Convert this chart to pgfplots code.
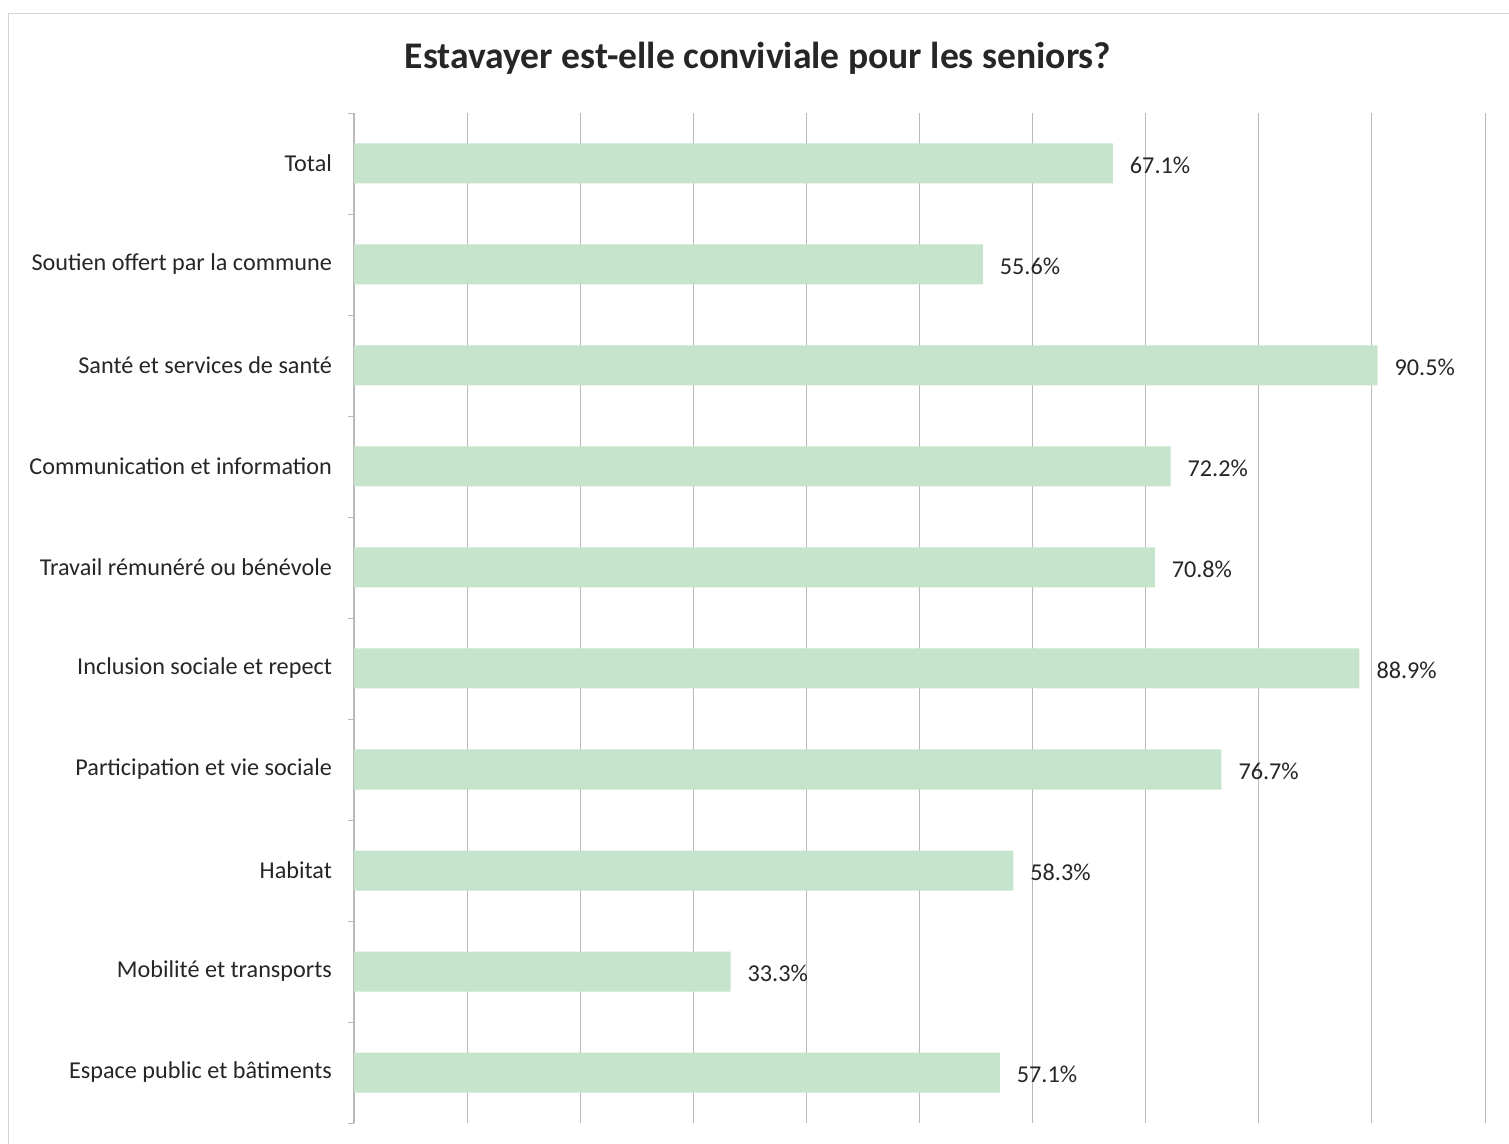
\documentclass[border=0pt]{standalone}
\usepackage{fontspec}
\setmainfont{Carlito}
\usepackage{pgfplots}
\pgfplotsset{compat=1.18}
\definecolor{barg}{RGB}{197,228,203}
\definecolor{gridg}{RGB}{185,185,185}
\begin{document}
\begin{tikzpicture}
\path[use as bounding box] (0pt,0pt) rectangle (754.5pt,572pt);
\draw[gridg!60,line width=0.4pt] (4pt,0pt) -- (4pt,565.5pt) -- (754.5pt,565.5pt);
\node[font=\fontsize{18.8}{20}\selectfont\bfseries, text=black!85] at (379pt,543pt) {Estavayer est-elle conviviale pour les seniors?};
\begin{axis}[
  at={(177pt,10.5pt)}, anchor=south west,
  scale only axis, width=565.5pt, height=505pt,
  xmin=0, xmax=100, ymin=-0.5, ymax=9.5, y dir=reverse,
  xtick={0,10,...,100}, xticklabels={}, xmajorgrids,
  grid style={gridg, line width=0.5pt},
  ytick={0,...,9},
  yticklabels={Total,Soutien offert par la commune,Santé et services de santé,Communication et information,Travail rémunéré ou bénévole,Inclusion sociale et repect,Participation et vie sociale,Habitat,Mobilité et transports,Espace public et bâtiments},
  yticklabel style={font=\fontsize{12.1}{14}\selectfont, text=black!85, xshift=-7.5pt},
  minor ytick={-0.5,0.5,...,9.5},
  major tick length=0pt, minor tick length=3pt, tick align=outside,
  minor tick style={gridg},
  separate axis lines,
  x axis line style={draw=none},
  y axis line style={gridg},
  axis x line*=bottom, axis y line*=left,
  xtick style={draw=none},
  xbar, bar width=20pt,
  point meta=x,
  nodes near coords={\pgfmathprintnumber[fixed,precision=1,fixed zerofill,assume math mode=true]{\pgfplotspointmeta}\%},
  every node near coord/.append style={font=\fontsize{12.1}{14}\selectfont, text=black!85, anchor=west, xshift=5pt, yshift=-1pt},
  clip=false,
]
\addplot[fill=barg, draw=none] coordinates {
(67.1,0) (55.6,1) (90.5,2) (72.2,3) (70.8,4) (88.9,5) (76.7,6) (58.3,7) (33.3,8) (57.1,9)};
\end{axis}
\end{tikzpicture}
\end{document}
